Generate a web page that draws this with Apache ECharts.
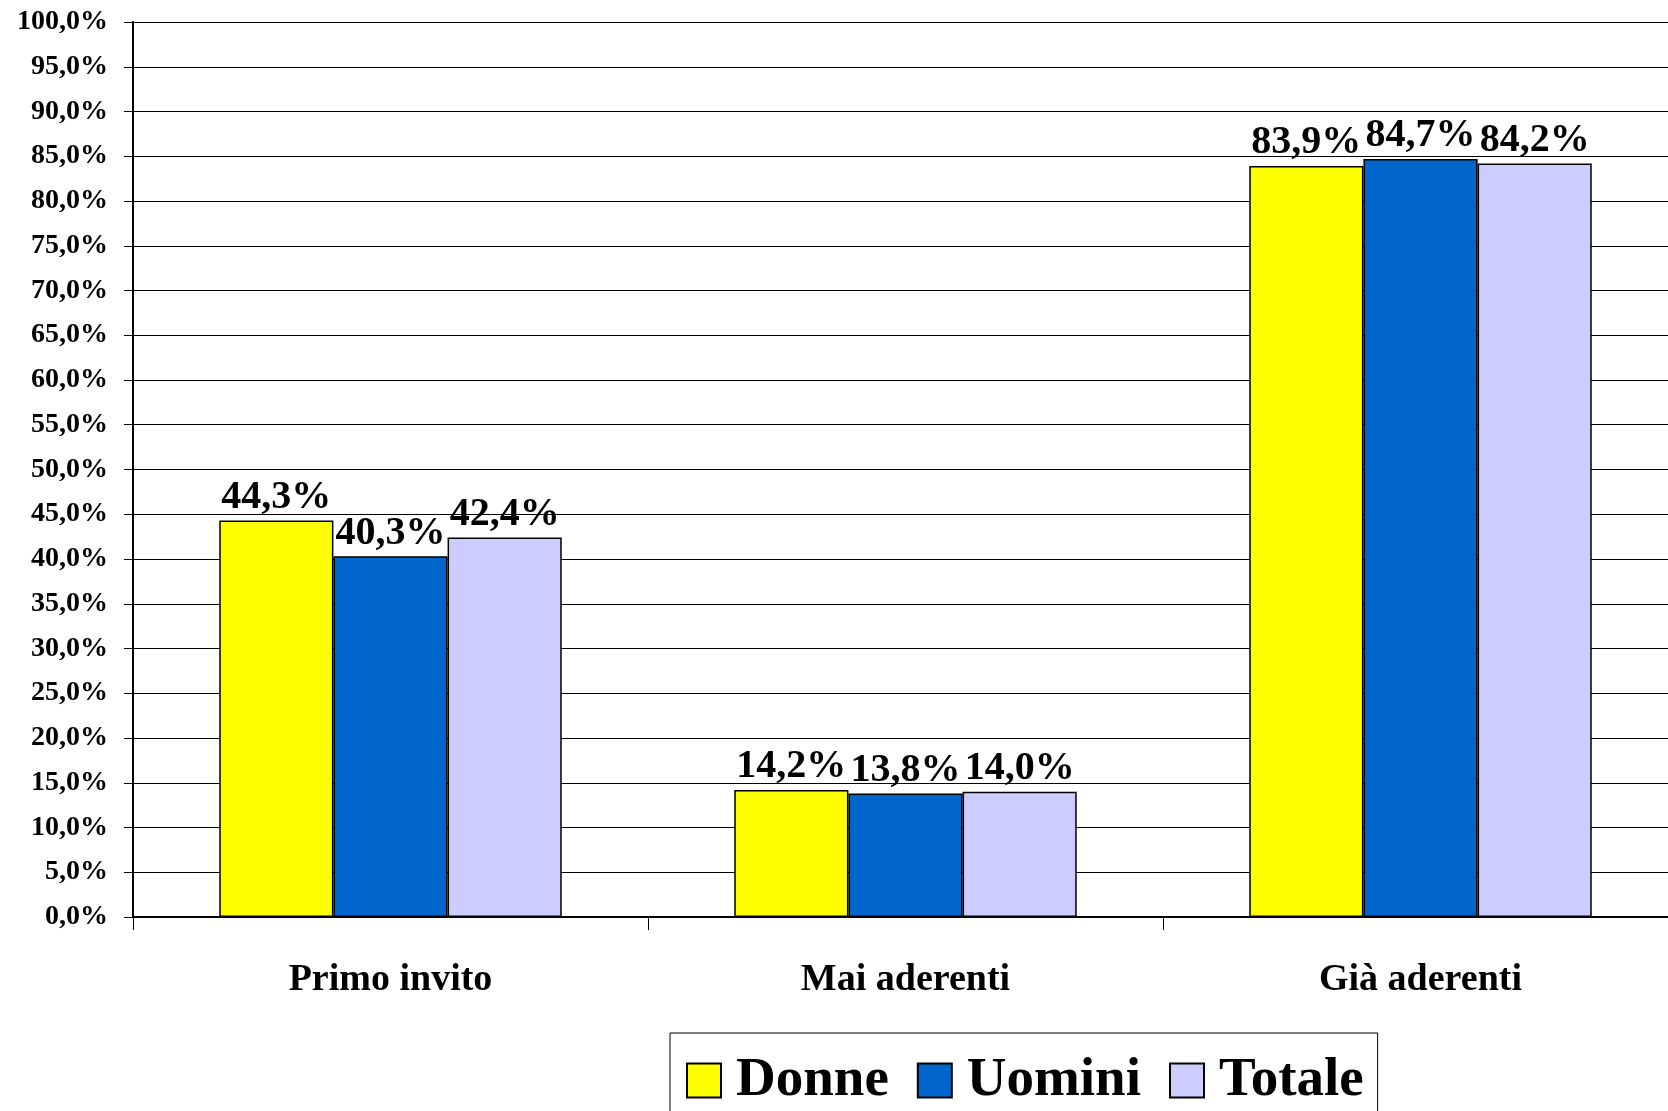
<!DOCTYPE html>
<html>
<head>
<meta charset="utf-8">
<script src="https://cdn.jsdelivr.net/npm/echarts@6/dist/echarts.min.js"></script>
<style>
html,body{margin:0;padding:0;background:#fff;}
#chart{width:1668px;height:1111px;}
</style>
</head>
<body>
<div id="chart"></div>
<script>
var categories = ["Primo invito", "Mai aderenti", "Già aderenti"];
var seriesNames = ["Donne", "Uomini", "Totale"];
var donne = [44.3, 14.2, 83.9];
var uomini = [40.3, 13.8, 84.7];
var totale = [42.4, 14.0, 84.2];
var colors = ["#FFFF00", "#0066CC", "#CCCCFF"];

var font = '"Liberation Serif", "Times New Roman", serif';
function fmt(v){ return v.toFixed(1).replace('.', ',') + '%'; }

function mk(name, data, color){
  return {
    name: name, type: 'bar', data: data,
    barGap: '0%', barCategoryGap: '33.5%',
    itemStyle: {color: color, borderColor: '#000', borderWidth: 1.5},
    label: {
      show: true, position: 'top', distance: 3,
      formatter: function(p){ return fmt(p.value); },
      fontFamily: font, fontWeight: 'bold', fontSize: 40, color: '#000'
    }
  };
}

var chart = echarts.init(document.getElementById('chart'));
chart.setOption({
  animation: false,
  backgroundColor: '#fff',
  grid: {left: 133, top: 22, right: -10, bottom: 194, outerBoundsMode: 'none', containLabel: false},
  legend: {
    left: 670, top: 1033,
    data: seriesNames,
    orient: 'horizontal',
    itemWidth: 34, itemHeight: 34, itemGap: 28,
    padding: [20, 14, 40, 16],
    borderColor: '#000', borderWidth: 1,
    icon: 'rect',
    textStyle: {fontFamily: font, fontWeight: 'bold', fontSize: 55, color: '#000', padding: [0,0,0,10]}
  },
  xAxis: {
    type: 'category', data: categories,
    axisLine: {lineStyle: {color: '#000', width: 2}},
    axisTick: {show: true, length: 13, lineStyle: {color: '#000', width: 1}},
    axisLabel: {fontFamily: font, fontWeight: 'bold', fontSize: 38, color: '#000', margin: 44}
  },
  yAxis: {
    type: 'value', min: 0, max: 100, interval: 5,
    axisLine: {show: true, lineStyle: {color: '#000', width: 2}},
    axisTick: {show: true, length: 9, lineStyle: {color: '#000', width: 1}},
    axisLabel: {fontFamily: font, fontWeight: 'bold', fontSize: 28, color: '#000', margin: 25,
      formatter: function(v){ return fmt(v); }},
    splitLine: {show: true, lineStyle: {color: '#000', width: 1}}
  },
  series: [mk(seriesNames[0], donne, colors[0]), mk(seriesNames[1], uomini, colors[1]), mk(seriesNames[2], totale, colors[2])]
});
</script>
</body>
</html>
